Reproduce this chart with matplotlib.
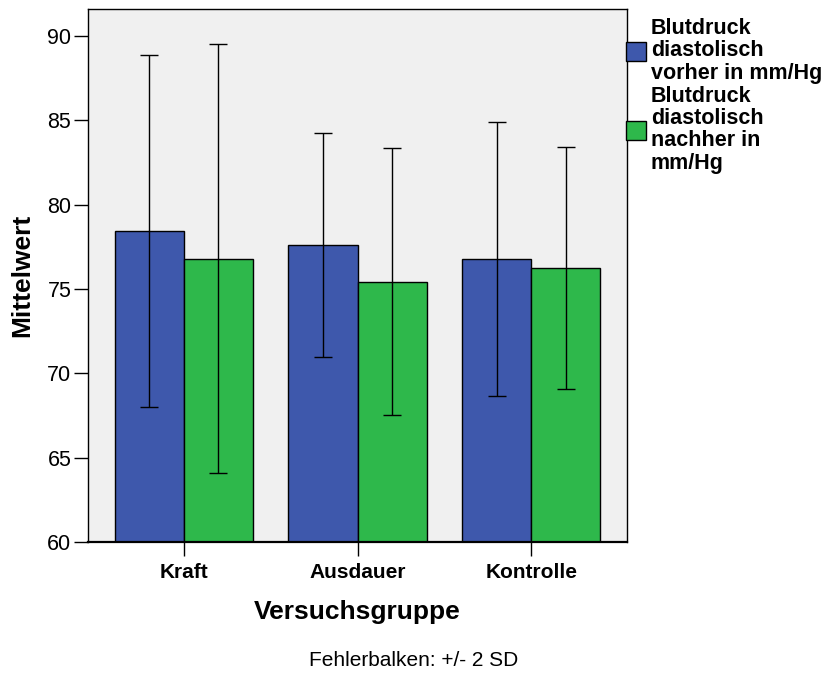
import numpy as np
import matplotlib.pyplot as plt

plt.rcParams['font.family'] = ['Liberation Sans', 'DejaVu Sans']

groups = ['Kraft', 'Ausdauer', 'Kontrolle']
series = ['Blutdruck\ndiastolisch\nvorher in mm/Hg', 'Blutdruck\ndiastolisch\nnachher in\nmm/Hg']
vorher = [78.44, 77.60, 76.78]
nachher = [76.78, 75.43, 76.26]
# half width of the error bars (2 SD)
vorher_2sd = [10.45, 6.65, 8.12]
nachher_2sd = [12.72, 7.93, 7.18]

colors = ['#3E58AC', '#2EB84B']

fig = plt.figure(figsize=(8.27, 6.73), dpi=100)
ax = fig.add_axes([0.1064, 0.1947, 0.6518, 0.7919])
ax.set_facecolor('#F0F0F0')

x = np.arange(len(groups))
w = 0.397
for i, (vals, err) in enumerate([(vorher, vorher_2sd), (nachher, nachher_2sd)]):
    pos = x + (i - 0.5) * w
    ax.bar(pos, np.array(vals) - 60, bottom=60, width=w, color=colors[i],
           edgecolor='black', linewidth=1, label=series[i], zorder=2)
    ax.errorbar(pos, vals, yerr=err, fmt='none', ecolor='black',
                elinewidth=1, capsize=6.5, capthick=1, zorder=3)

ax.set_xlim(-0.55, 2.55)
ax.set_ylim(60, 91.6)
ax.set_yticks([60, 65, 70, 75, 80, 85, 90])
ax.set_xticks(x)
ax.set_xticklabels(groups, fontweight='bold', fontsize=15)
ax.tick_params(axis='y', labelsize=15.5, length=10, width=1, pad=2)
ax.tick_params(axis='x', length=10, width=1, pad=5)
for s in ax.spines.values():
    s.set_linewidth(1)
ax.spines['bottom'].set_linewidth(1.6)

ax.set_xlabel('Versuchsgruppe', fontsize=19, fontweight='bold', labelpad=13)
ax.set_ylabel('Mittelwert', fontsize=19, fontweight='bold', labelpad=9)

fig.text(0.5, 0.0193, 'Fehlerbalken: +/- 2 SD', ha='center', va='center', fontsize=15)

leg = fig.legend(loc='upper left', bbox_to_anchor=(0.757, 0.973), frameon=False,
                 prop={'weight': 'bold', 'size': 15.5}, handlelength=0.95, handleheight=0.95,
                 handletextpad=0.2, labelspacing=0.1, borderpad=0, borderaxespad=0)
for t in leg.get_texts():
    t.set_linespacing(1.08)

fig.savefig('out.png', dpi=100)
